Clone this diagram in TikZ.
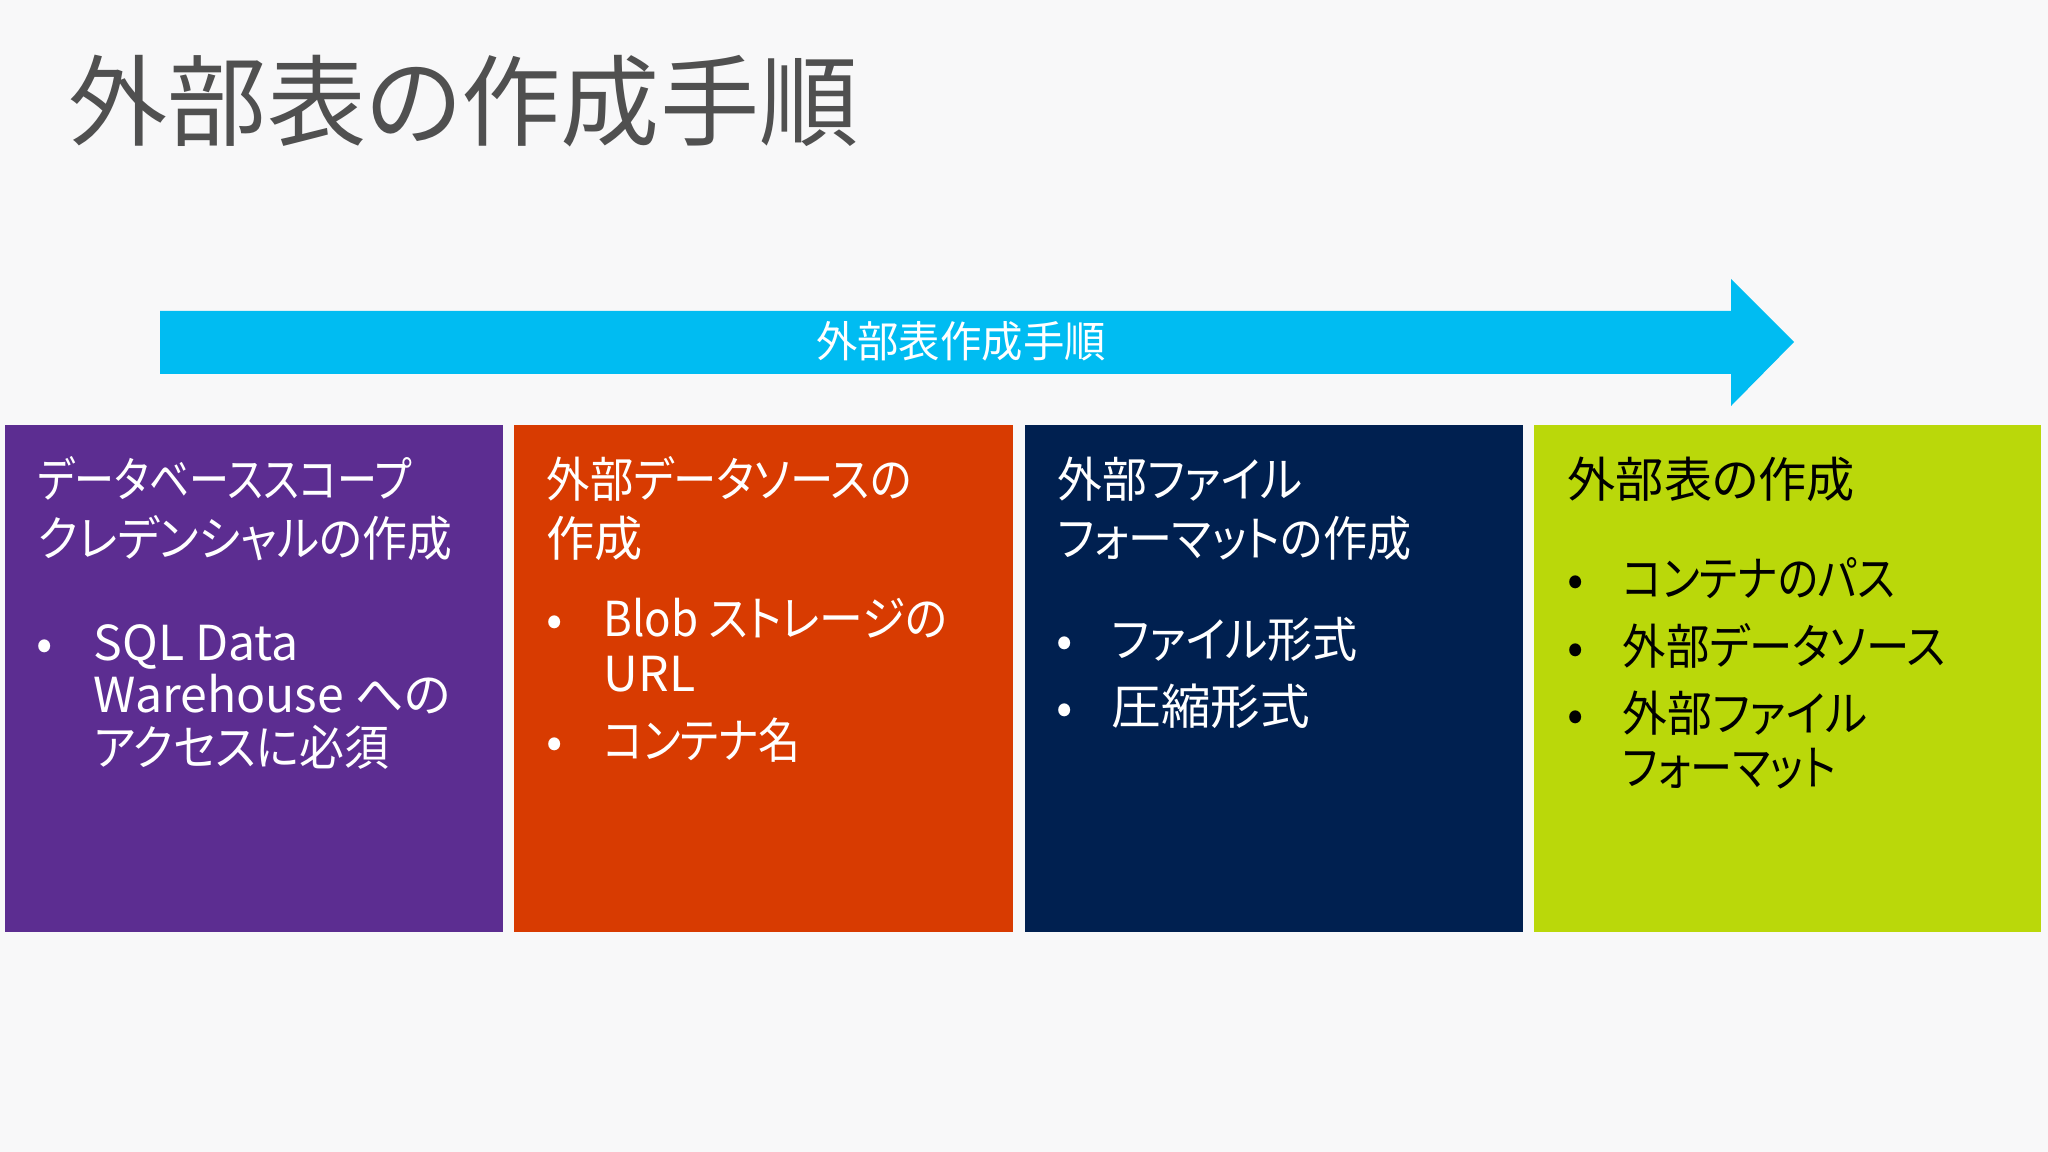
\documentclass[tikz,border=0pt]{standalone}
\usepackage{fontspec}
\usepackage{graphicx}
\setmainfont{Noto Sans CJK JP}[RawFeature=+palt]
\definecolor{bgc}{HTML}{F8F8F9}
\definecolor{titlec}{HTML}{505050}
\definecolor{arrowc}{HTML}{00BCF2}
\definecolor{c1}{HTML}{5C2D91}
\definecolor{c2}{HTML}{D83B01}
\definecolor{c3}{HTML}{002050}
\definecolor{c4}{HTML}{BAD80A}
\newcommand{\hsq}[2]{\scalebox{#1}[1]{#2}}
\begin{document}
\begin{tikzpicture}[x=0.01cm,y=-0.01cm,
  panel/.style={anchor=north west, inner sep=0, minimum height=5.07cm},
  txt/.style={anchor=west, inner sep=0, text height=1em, text depth=0em},
  hd/.style={txt, font=\fontsize{13.7}{16}\selectfont},
  bt/.style={txt, font=\fontsize{13.7}{16}\selectfont},
  dot/.style={txt, font=\fontsize{13.7}{16}\selectfont}]
\fill[bgc] (0,0) rectangle (2048,1152);
\useasboundingbox (0,0) rectangle (2048,1152);
% title
\node[txt, text=titlec, font=\fontsize{28.2}{30}\selectfont] (title) at (68,121) {外部表の作成手順};
% arrow
\fill[arrowc] (160,311) -- (1731,311) -- (1731,279) -- (1794,342) -- (1731,406) -- (1731,374) -- (160,374) -- cycle;
\node[txt, anchor=center, text=white, font=\fontsize{12.2}{14}\selectfont] (alabel) at (961,340) {\hsq{0.965}{外部表作成手順}};
% panels
\node[panel, fill=c1, minimum width=4.98cm] (p1) at (4,424) {};
\node[panel, fill=c2, minimum width=4.99cm] (p2) at (513,424) {};
\node[panel, fill=c3, minimum width=4.98cm] (p3) at (1024,424) {};
\node[panel, fill=c4, minimum width=5.07cm] (p4) at (1533,424) {};
\begin{scope}[every node/.append style={text=white}]
% panel 1
\node[hd] (h1a) at (37,480) {\hsq{0.83}{データベーススコープ}};
\node[hd] (h1b) at (37,539) {\hsq{0.93}{クレデンシャルの作成}};
\node[dot] (d1a) at (36,643) {•};
\node[bt] (b1a) at (93,643) {SQL Data};
\node[bt] (b1b) at (93,695) {Warehouse への};
\node[bt] (b1c) at (93,748) {\hsq{0.93}{アクセスに必須}};
% panel 2
\node[hd] (h2a) at (546,480) {\hsq{0.9}{外部データソースの}};
\node[hd] (h2b) at (546,539) {作成};
\node[dot] (d2a) at (546,619) {•};
\node[bt] (b2a) at (603,619) {\hsq{0.91}{Blob ストレージの}};
\node[bt] (b2b) at (603,674) {URL};
\node[dot] (d2b) at (546,741) {•};
\node[bt] (b2c) at (603,741) {\hsq{0.87}{コンテナ名}};
% panel 3
\node[hd] (h3a) at (1057,480) {\hsq{0.93}{外部ファイル}};
\node[hd] (h3b) at (1057,539) {\hsq{0.915}{フォーマットの作成}};
\node[dot] (d3a) at (1056,640) {•};
\node[bt] (b3a) at (1111,640) {\hsq{0.935}{ファイル形式}};
\node[dot] (d3b) at (1056,707) {•};
\node[bt] (b3b) at (1111,707) {\hsq{1.03}{圧縮形式}};
\end{scope}
\begin{scope}[every node/.append style={text=black}]
% panel 4
\node[hd] (h4a) at (1567,480) {外部表の作成};
\node[dot] (d4a) at (1567,579) {•};
\node[bt] (b4a) at (1622,579) {\hsq{0.87}{コンテナのパス}};
\node[dot] (d4b) at (1567,647) {•};
\node[bt] (b4b) at (1622,647) {\hsq{0.9}{外部データソース}};
\node[dot] (d4c) at (1567,714) {•};
\node[bt] (b4c) at (1622,714) {\hsq{0.93}{外部ファイル}};
\node[bt] (b4d) at (1622,768) {\hsq{0.875}{フォーマット}};
\end{scope}
\end{tikzpicture}
\end{document}
